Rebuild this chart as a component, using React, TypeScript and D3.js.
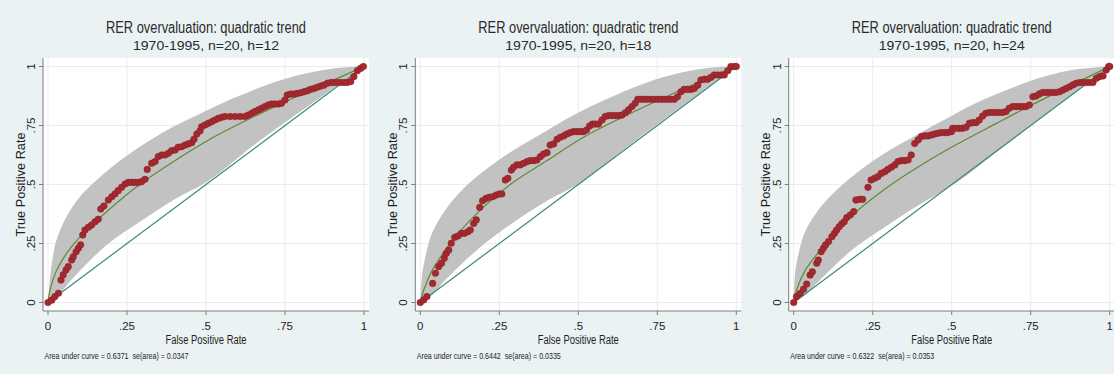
import React from "react";
import * as d3 from "d3";

type P = [number, number];

const hValues = ["12", "18", "24"];
const aucLabels = ["0.6371", "0.6442", "0.6322"];
const seLabels = ["0.0347", "0.0335", "0.0353"];
const tickValues = [0, 0.25, 0.5, 0.75, 1];
const tickLabels = ["0", ".25", ".5", ".75", "1"];
const titleText = "RER overvaluation: quadratic trend";

const rocH12: P[] = [
  [0, 0], [0.012, 0.01], [0.022, 0.025], [0.033, 0.039], [0.041, 0.095], [0.048, 0.117], [0.057, 0.138],
  [0.064, 0.152], [0.075, 0.18], [0.08, 0.194], [0.089, 0.215], [0.096, 0.23], [0.103, 0.244], [0.11, 0.286],
  [0.117, 0.307], [0.128, 0.319], [0.138, 0.328], [0.149, 0.342], [0.159, 0.353], [0.167, 0.396], [0.177, 0.409],
  [0.191, 0.434], [0.202, 0.448], [0.212, 0.46], [0.222, 0.474], [0.233, 0.488], [0.244, 0.502], [0.254, 0.509],
  [0.265, 0.509], [0.275, 0.509], [0.286, 0.509], [0.296, 0.512], [0.307, 0.522], [0.314, 0.564], [0.328, 0.59],
  [0.339, 0.597], [0.349, 0.618], [0.36, 0.625], [0.37, 0.625], [0.381, 0.632], [0.391, 0.643], [0.402, 0.646],
  [0.412, 0.658], [0.423, 0.66], [0.434, 0.667], [0.444, 0.672], [0.455, 0.677], [0.462, 0.692], [0.471, 0.714],
  [0.481, 0.727], [0.486, 0.745], [0.497, 0.752], [0.507, 0.759], [0.518, 0.766], [0.528, 0.773], [0.539, 0.78],
  [0.55, 0.785], [0.56, 0.788], [0.576, 0.788], [0.592, 0.788], [0.608, 0.788], [0.623, 0.788], [0.634, 0.794],
  [0.645, 0.802], [0.655, 0.809], [0.666, 0.816], [0.676, 0.823], [0.687, 0.83], [0.697, 0.837], [0.708, 0.841],
  [0.718, 0.841], [0.729, 0.841], [0.739, 0.844], [0.75, 0.858], [0.757, 0.879], [0.768, 0.883], [0.778, 0.883],
  [0.789, 0.886], [0.8, 0.889], [0.81, 0.893], [0.821, 0.897], [0.831, 0.903], [0.842, 0.907], [0.852, 0.912],
  [0.863, 0.917], [0.873, 0.921], [0.884, 0.929], [0.895, 0.932], [0.905, 0.932], [0.916, 0.932], [0.926, 0.932],
  [0.937, 0.932], [0.947, 0.932], [0.958, 0.936], [0.968, 0.957], [0.979, 0.982], [0.989, 0.992], [0.998, 1.0]
];

const rocH18: P[] = [
  [0, 0], [0.011, 0.011], [0.021, 0.025], [0.039, 0.081], [0.048, 0.124], [0.058, 0.152], [0.067, 0.166],
  [0.076, 0.187], [0.082, 0.208], [0.09, 0.222], [0.098, 0.251], [0.109, 0.276], [0.119, 0.282], [0.13, 0.293],
  [0.14, 0.293], [0.151, 0.3], [0.158, 0.307], [0.169, 0.335], [0.177, 0.35], [0.188, 0.403], [0.197, 0.431],
  [0.208, 0.441], [0.218, 0.446], [0.229, 0.448], [0.24, 0.455], [0.25, 0.46], [0.258, 0.46], [0.269, 0.519],
  [0.277, 0.526], [0.288, 0.561], [0.295, 0.573], [0.306, 0.583], [0.316, 0.583], [0.327, 0.59], [0.338, 0.597],
  [0.348, 0.601], [0.359, 0.601], [0.369, 0.604], [0.38, 0.618], [0.39, 0.629], [0.401, 0.635], [0.411, 0.667],
  [0.422, 0.672], [0.433, 0.692], [0.443, 0.7], [0.454, 0.706], [0.464, 0.714], [0.475, 0.72], [0.485, 0.724],
  [0.496, 0.724], [0.506, 0.724], [0.516, 0.724], [0.526, 0.731], [0.536, 0.748], [0.545, 0.756], [0.554, 0.756],
  [0.564, 0.756], [0.575, 0.773], [0.585, 0.788], [0.596, 0.792], [0.606, 0.792], [0.617, 0.792], [0.628, 0.792],
  [0.638, 0.794], [0.649, 0.804], [0.659, 0.816], [0.67, 0.83], [0.68, 0.844], [0.688, 0.861], [0.698, 0.861],
  [0.709, 0.861], [0.719, 0.861], [0.73, 0.861], [0.74, 0.861], [0.751, 0.861], [0.762, 0.861], [0.772, 0.861],
  [0.783, 0.861], [0.793, 0.861], [0.804, 0.861], [0.814, 0.872], [0.825, 0.893], [0.835, 0.903], [0.846, 0.903],
  [0.857, 0.903], [0.867, 0.907], [0.878, 0.921], [0.888, 0.943], [0.899, 0.946], [0.909, 0.946], [0.92, 0.954],
  [0.93, 0.964], [0.941, 0.964], [0.952, 0.964], [0.962, 0.964], [0.973, 0.982], [0.983, 1.0], [0.994, 1.0], [1, 1]
];

const rocH24: P[] = [
  [0, 0], [0.009, 0.025], [0.02, 0.038], [0.031, 0.056], [0.041, 0.078], [0.052, 0.116], [0.059, 0.13],
  [0.073, 0.166], [0.078, 0.18], [0.087, 0.215], [0.094, 0.23], [0.101, 0.244], [0.11, 0.258], [0.121, 0.279],
  [0.129, 0.293], [0.136, 0.307], [0.144, 0.321], [0.152, 0.333], [0.16, 0.342], [0.168, 0.36], [0.179, 0.371],
  [0.19, 0.385], [0.197, 0.434], [0.208, 0.437], [0.218, 0.437], [0.235, 0.488], [0.245, 0.519], [0.256, 0.526],
  [0.266, 0.533], [0.277, 0.547], [0.288, 0.554], [0.298, 0.564], [0.309, 0.573], [0.32, 0.583], [0.33, 0.597],
  [0.341, 0.601], [0.351, 0.601], [0.362, 0.604], [0.372, 0.625], [0.383, 0.674], [0.394, 0.689], [0.404, 0.703],
  [0.415, 0.706], [0.425, 0.706], [0.436, 0.71], [0.446, 0.714], [0.457, 0.717], [0.467, 0.72], [0.478, 0.72],
  [0.488, 0.72], [0.499, 0.724], [0.503, 0.738], [0.513, 0.738], [0.524, 0.738], [0.534, 0.738], [0.545, 0.742],
  [0.556, 0.759], [0.566, 0.762], [0.577, 0.762], [0.587, 0.773], [0.598, 0.79], [0.608, 0.802], [0.619, 0.805],
  [0.629, 0.805], [0.64, 0.805], [0.65, 0.805], [0.661, 0.805], [0.672, 0.809], [0.682, 0.823], [0.693, 0.83],
  [0.704, 0.83], [0.714, 0.83], [0.725, 0.83], [0.735, 0.83], [0.746, 0.837], [0.757, 0.872], [0.767, 0.875],
  [0.778, 0.884], [0.788, 0.89], [0.799, 0.89], [0.809, 0.89], [0.82, 0.89], [0.83, 0.89], [0.841, 0.893],
  [0.852, 0.9], [0.862, 0.907], [0.873, 0.914], [0.884, 0.922], [0.894, 0.929], [0.905, 0.932], [0.915, 0.932],
  [0.926, 0.932], [0.936, 0.932], [0.947, 0.932], [0.958, 0.95], [0.968, 0.957], [0.979, 0.96], [0.989, 0.985],
  [0.997, 1.0], [1, 1]
];

const fitH12: P[] = [
  [0, 0], [0.006, 0.05], [0.022, 0.12], [0.05, 0.19], [0.08, 0.245], [0.11, 0.29], [0.19, 0.39], [0.29, 0.5],
  [0.4, 0.6], [0.51, 0.69], [0.64, 0.78], [0.75, 0.85], [0.9, 0.94], [1, 1]
];
const fitH18: P[] = [
  [0, 0], [0.011, 0.053], [0.037, 0.135], [0.079, 0.222], [0.111, 0.279], [0.185, 0.385], [0.29, 0.505],
  [0.396, 0.597], [0.511, 0.696], [0.64, 0.785], [0.75, 0.855], [0.9, 0.945], [1, 1]
];
const fitH24: P[] = [
  [0, 0], [0.009, 0.053], [0.036, 0.135], [0.078, 0.212], [0.11, 0.262], [0.184, 0.368], [0.29, 0.482],
  [0.396, 0.576], [0.512, 0.667], [0.64, 0.758], [0.75, 0.835], [0.9, 0.935], [1, 1]
];

const upperH12: P[] = [
  [0, 0], [0.004, 0.07], [0.012, 0.165], [0.027, 0.265], [0.059, 0.364], [0.101, 0.448], [0.154, 0.519],
  [0.217, 0.59], [0.291, 0.66], [0.376, 0.73], [0.481, 0.8], [0.586, 0.865], [0.692, 0.922], [0.797, 0.965],
  [0.903, 0.992], [1, 1]
];
const lowerH12: P[] = [
  [0, 0], [0.038, 0.04], [0.08, 0.105], [0.186, 0.244], [0.291, 0.342], [0.397, 0.434], [0.513, 0.52],
  [0.65, 0.665], [0.8, 0.81], [0.9, 0.905], [1, 1]
];
const upperH18: P[] = [
  [0, 0], [0.005, 0.11], [0.016, 0.194], [0.037, 0.293], [0.079, 0.392], [0.132, 0.477], [0.185, 0.54],
  [0.248, 0.604], [0.322, 0.667], [0.396, 0.725], [0.48, 0.79], [0.586, 0.86], [0.691, 0.92], [0.797, 0.965],
  [0.902, 0.993], [1, 1]
];
const lowerH18: P[] = [
  [0, 0], [0.037, 0.032], [0.079, 0.095], [0.185, 0.229], [0.29, 0.335], [0.396, 0.427], [0.511, 0.512],
  [0.65, 0.655], [0.8, 0.805], [0.9, 0.903], [1, 1]
];
const upperH24: P[] = [
  [0, 0], [0.004, 0.12], [0.015, 0.205], [0.036, 0.3], [0.078, 0.392], [0.131, 0.47], [0.184, 0.533],
  [0.248, 0.597], [0.322, 0.66], [0.396, 0.715], [0.471, 0.77], [0.577, 0.845], [0.682, 0.905], [0.788, 0.955],
  [0.894, 0.988], [1, 1]
];
const lowerH24: P[] = [
  [0, 0], [0.036, 0.032], [0.078, 0.088], [0.184, 0.222], [0.29, 0.321], [0.396, 0.413], [0.512, 0.505],
  [0.65, 0.645], [0.8, 0.8], [0.9, 0.9], [1, 1]
];

const rocSeries = [rocH12, rocH18, rocH24];
const fitSeries = [fitH12, fitH18, fitH24];
const upperSeries = [upperH12, upperH18, upperH24];
const lowerSeries = [lowerH12, lowerH18, lowerH24];
const panelOffsets = [0, 372.3, 745.7];

const NARROW = "'Liberation Sans Narrow', 'Arial Narrow', sans-serif";
const SANS = "'Liberation Sans', Arial, sans-serif";

function Panel({ i }: { i: number }) {
  const dx = panelOffsets[i];
  const x = d3.scaleLinear().domain([0, 1]).range([48, 364]);
  const y = d3.scaleLinear().domain([0, 1]).range([302.5, 66.5]);
  const line = d3
    .line<P>()
    .x((d) => x(d[0]))
    .y((d) => y(d[1]))
    .curve(d3.curveCatmullRom.alpha(0.5));
  const straight = d3.line<P>().x((d) => x(d[0])).y((d) => y(d[1]));
  const up = line(upperSeries[i]) || "";
  const lo = (line([...lowerSeries[i]].reverse()) || "").replace(/^M/, "L");
  const band = up + lo + "Z";
  const fit = line(fitSeries[i]) || "";
  const diag = straight([[0, 0], [1, 1]]) || "";
  const left = 43, right = 369, top = 58, bottom = 311;
  const cx = (left + right) / 2;
  return (
    <g transform={`translate(${dx},0)`}>
      <text x={cx} y={33} textAnchor="middle" fontFamily={NARROW} fontSize={16} fill="#2a2a2a"
        textLength={200} lengthAdjust="spacingAndGlyphs">{titleText}</text>
      <text x={cx} y={50} textAnchor="middle" fontFamily={SANS} fontSize={12} fill="#2a2a2a"
        textLength={146} lengthAdjust="spacingAndGlyphs">{`1970-1995, n=20, h=${hValues[i]}`}</text>
      <rect x={left} y={top} width={right - left} height={bottom - top} fill="#ffffff" />
      {tickValues.map((t) => (
        <g key={"g" + t}>
          <line x1={x(t)} x2={x(t)} y1={top} y2={bottom} stroke="#e9eded" strokeWidth={1} />
          <line x1={left} x2={right} y1={y(t)} y2={y(t)} stroke="#e9eded" strokeWidth={1} />
        </g>
      ))}
      <path d={band} fill="#c2c2c2" stroke="none" />
      <path d={fit} fill="none" stroke="#5e8a35" strokeWidth={1.2} />
      <path d={diag} fill="none" stroke="#3a8a74" strokeWidth={1.2} />
      {rocSeries[i].map((d, k) => (
        <circle key={k} cx={x(d[0])} cy={y(d[1])} r={3.3} fill="#a2292f" stroke="#8c1f25" strokeWidth={0.5} />
      ))}
      <line x1={left} x2={left} y1={top} y2={bottom} stroke="#7d7d7d" strokeWidth={1} />
      <line x1={left} x2={right} y1={bottom} y2={bottom} stroke="#7d7d7d" strokeWidth={1} />
      {tickValues.map((t, k) => (
        <g key={"t" + t}>
          <line x1={x(t)} x2={x(t)} y1={bottom} y2={bottom + 4} stroke="#7d7d7d" />
          <text x={x(t)} y={329.5} textAnchor="middle" fontFamily={NARROW} fontSize={11.5} fill="#1e1e1e">
            {tickLabels[k]}
          </text>
          <line x1={left - 4} x2={left} y1={y(t)} y2={y(t)} stroke="#7d7d7d" />
          <text transform={`translate(35,${y(t)}) rotate(-90)`} textAnchor="middle" fontFamily={NARROW}
            fontSize={11.5} fill="#1e1e1e">{tickLabels[k]}</text>
        </g>
      ))}
      <text x={cx} y={344} textAnchor="middle" fontFamily={NARROW} fontSize={12.5} fill="#1e1e1e"
        textLength={81} lengthAdjust="spacingAndGlyphs">False Positive Rate</text>
      <text transform={`translate(24.5,${(top + bottom) / 2}) rotate(-90)`} textAnchor="middle" fontFamily={NARROW}
        fontSize={13.5} fill="#1e1e1e" textLength={104} lengthAdjust="spacingAndGlyphs">True Positive Rate</text>
      <text x={44.5} y={359} fontFamily={NARROW} fontSize={9} fill="#1e1e1e" textLength={144}
        lengthAdjust="spacingAndGlyphs" style={{ whiteSpace: "pre" }}>
        {`Area under curve = ${aucLabels[i]}  se(area) = ${seLabels[i]}`}
      </text>
    </g>
  );
}

export default function App() {
  return (
    <svg width={1114} height={374} style={{ position: "absolute", left: 0, top: 0, display: "block" }}>
      <rect x={0} y={0} width={1114} height={374} fill="#eaf2f3" />
      {[0, 1, 2].map((i) => (
        <Panel key={i} i={i} />
      ))}
    </svg>
  );
}
